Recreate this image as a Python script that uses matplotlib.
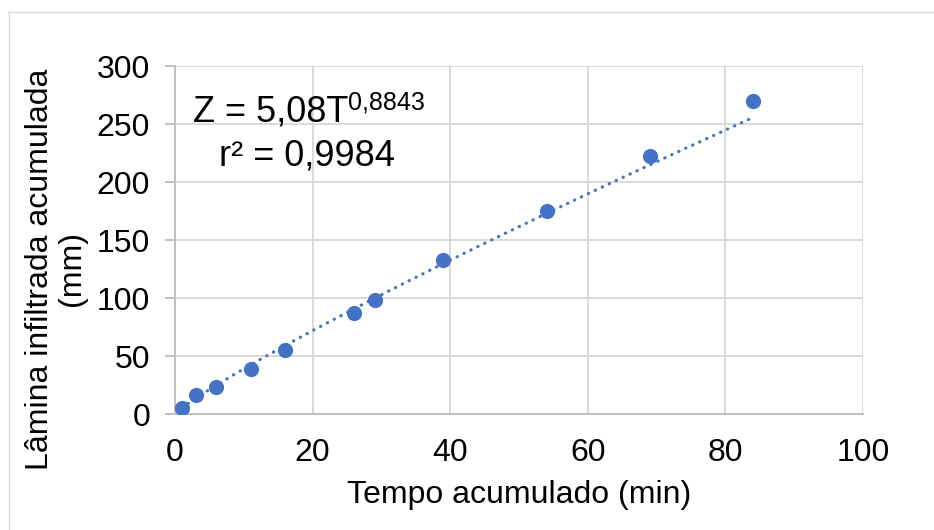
import matplotlib.pyplot as plt
import numpy as np

# tempo acumulado (min) e lamina infiltrada acumulada (mm)
tempo = [1, 3, 6, 11, 16, 26, 29, 39, 54, 69, 84]
lamina = [5, 16, 23, 39, 55, 87, 98, 133, 175, 222, 270]

# coeficientes do ajuste potencial Z = a*T^b
coef_a = 5.08
coef_b = 0.8843

plt.rcParams['font.family'] = ['Liberation Sans', 'DejaVu Sans']

W, H = 934, 530
fig = plt.figure(figsize=(W/100, H/100), dpi=100)
ax = fig.add_axes([175/W, 1 - 414/H, (863-175)/W, (414-66)/H])

# linha de tendencia pontilhada
t_fit = np.linspace(min(tempo), max(tempo), 300)
ax.plot(t_fit, coef_a * t_fit**coef_b, color='#4472C4', lw=2.3,
        linestyle=(0, (0.1, 2.3)), dash_capstyle='round', zorder=3)
ax.scatter(tempo, lamina, s=120, color='#4472C4', zorder=4, linewidths=0)

ax.set_xlim(0, 100)
ax.set_ylim(0, 300)
ax.set_xticks(range(0, 101, 20))
ax.set_yticks(range(0, 301, 50))
ax.grid(True, color='#d9d9d9', lw=1.4)
ax.set_axisbelow(True)
for s in ['top', 'right']:
    ax.spines[s].set_visible(False)
for s in ['left', 'bottom']:
    ax.spines[s].set_color('#bfbfbf')
    ax.spines[s].set_linewidth(1.4)
ax.tick_params(axis='x', length=0, labelsize=23, pad=17)
ax.tick_params(axis='y', length=7, width=1.4, color='#bfbfbf',
               labelsize=23, pad=11)

ax.set_xlabel('Tempo acumulado (min)', fontsize=23, labelpad=9)

# rotulo do eixo y (duas linhas, como no Excel)
fig.text(56/W, 1 - 269/H, 'Lâmina infiltrada acumulada\n(mm)', fontsize=23,
         rotation=90, ha='center', va='center', multialignment='center',
         linespacing=1.05)

# equacao do ajuste
fig.text(193/W, 1 - 121/H, 'Z = 5,08T', fontsize=26, va='baseline')
fig.text(348/W, 1 - 109/H, '0,8843', fontsize=18, va='baseline')
fig.text(219/W, 1 - 165/H, 'r² = 0,9984', fontsize=26, va='baseline')

# borda do grafico
fig.add_artist(plt.Line2D([8/W, 1], [1 - 11.5/H, 1 - 11.5/H],
                          transform=fig.transFigure, color='#d9d9d9', lw=1))
fig.add_artist(plt.Line2D([8.5/W, 8.5/W], [0, 1 - 11.5/H],
                          transform=fig.transFigure, color='#d9d9d9', lw=1))

fig.savefig('out.png', dpi=100)
